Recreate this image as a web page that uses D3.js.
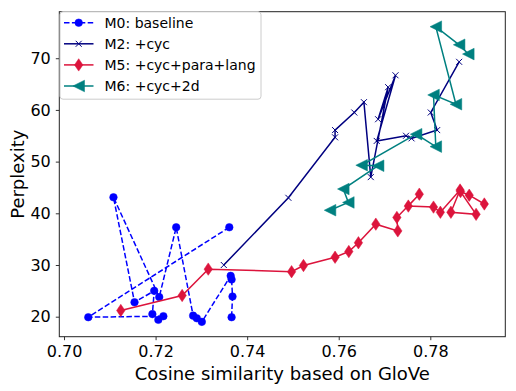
<!DOCTYPE html>
<meta charset="utf-8">
<script src="https://d3js.org/d3.v7.min.js"></script>
<style>
body { margin: 0; background: #fff; }
text { font-family: "DejaVu Sans", sans-serif; fill: #000; }
.tick text { font-size: 16px; }
.domain { display: none; }
.tick line { stroke: #000; stroke-width: 0.8; }
</style>
<div id="chart"></div>
<script>

// M0: baseline
var m0X = [0.7361, 0.7053, 0.7217, 0.7206, 0.7193, 0.7197, 0.7154, 0.7108, 0.7208, 0.7245, 0.7282, 0.7290, 0.7301, 0.7364, 0.7366, 0.7368, 0.7366];
var m0Y = [37.3, 19.9, 20.1, 19.4, 20.5, 25.0, 22.8, 43.1, 23.8, 37.3, 20.2, 19.7, 19.0, 27.9, 27.2, 23.9, 19.9];
// M2: +cyc
var m2X = [0.7349, 0.7490, 0.7592, 0.7592, 0.7634, 0.7655, 0.7670, 0.7708, 0.7686, 0.7724, 0.7683, 0.7747, 0.7759, 0.7815, 0.7801, 0.7863];
var m2Y = [30.0, 43.0, 54.7, 56.1, 59.5, 61.5, 47.0, 64.4, 58.2, 66.7, 54.0, 55.0, 54.5, 56.1, 59.5, 69.3];
// M5: +cyc+para+lang
var m5X = [0.7124, 0.7258, 0.7315, 0.7497, 0.7523, 0.7592, 0.7622, 0.7643, 0.7681, 0.7729, 0.7727, 0.7776, 0.7752, 0.7807, 0.7822, 0.7865, 0.7845, 0.7900, 0.7866, 0.7885, 0.7918];
var m5Y = [21.2, 24.1, 29.2, 28.7, 29.9, 31.5, 32.6, 34.3, 37.9, 36.6, 39.2, 43.7, 41.4, 41.2, 40.2, 44.5, 40.2, 39.8, 44.2, 43.5, 41.8];
// M6: +cyc+2d
var m6X = [0.7581, 0.7621, 0.7610, 0.7686, 0.7650, 0.7769, 0.7812, 0.7807, 0.7856, 0.7812, 0.7863, 0.7883];
var m6Y = [40.6, 42.1, 44.7, 49.2, 49.3, 55.3, 52.9, 62.9, 61.1, 76.1, 72.6, 70.8];

var xTicks = [0.70, 0.72, 0.74, 0.76, 0.78];
var yTicks = [20, 30, 40, 50, 60, 70];

var W = 516, H = 391;
var margin = {top: 11.7, right: 10.7, bottom: 54.3, left: 59.3};
var width = W - margin.left - margin.right,
    height = H - margin.top - margin.bottom;

var svg = d3.select("#chart").append("svg")
    .attr("width", W)
    .attr("height", H);

var g = svg.append("g")
    .attr("transform", "translate(" + margin.left + "," + margin.top + ")");

var x = d3.scaleLinear().domain([0.69897, 0.79638]).range([0, width]);
var y = d3.scaleLinear().domain([16.13, 79.0]).range([height, 0]);

g.append("g")
    .attr("transform", "translate(0," + height + ")")
    .call(d3.axisBottom(x).tickValues(xTicks).tickFormat(d3.format(".2f")).tickSize(3.5).tickPadding(5));

g.append("g")
    .call(d3.axisLeft(y).tickValues(yTicks).tickFormat(d3.format("d")).tickSize(3.5).tickPadding(5));

// axis labels
svg.append("text")
    .attr("x", margin.left + width / 2)
    .attr("y", 380)
    .attr("text-anchor", "middle")
    .style("font-size", "18px")
    .text("Cosine similarity based on GloVe");

svg.append("text")
    .attr("transform", "translate(24," + (margin.top + height / 2) + ") rotate(-90)")
    .attr("text-anchor", "middle")
    .style("font-size", "18px")
    .text("Perplexity");

// marker shapes
var circlePath = d3.symbol().type(d3.symbolCircle).size(Math.PI * 3.8 * 3.8)();
var diamondPath = "M0,-6.2L4.2,0L0,6.2L-4.2,0Z";
var triPath = "M-5.8,0L5.8,-5.8L5.8,5.8Z";
var xPath = "M-3,-3L3,3M-3,3L3,-3";

var series = [
  {name: "M0: baseline", xs: m0X, ys: m0Y, color: "#0000ff", dash: "5.5,2.4", marker: circlePath, fill: true},
  {name: "M2: +cyc", xs: m2X, ys: m2Y, color: "#000080", dash: null, marker: xPath, fill: false},
  {name: "M5: +cyc+para+lang", xs: m5X, ys: m5Y, color: "#dc143c", dash: null, marker: diamondPath, fill: true},
  {name: "M6: +cyc+2d", xs: m6X, ys: m6Y, color: "#008080", dash: null, marker: triPath, fill: true}
];

var line = d3.line()
  .x(function (d) { return x(d[0]); })
  .y(function (d) { return y(d[1]); });

var plot = g.append("g");

function drawMarker(sel, s) {
  sel.append("path")
    .attr("d", s.marker)
    .attr("fill", s.fill ? s.color : "none")
    .attr("stroke", s.color)
    .attr("stroke-width", s.fill ? 0.5 : 1);
}

series.forEach(function (s) {
  var pts = s.xs.map(function (v, i) { return [v, s.ys[i]]; });
  plot.append("path")
    .datum(pts)
    .attr("d", line)
    .attr("fill", "none")
    .attr("stroke", s.color)
    .attr("stroke-width", 1.5)
    .attr("stroke-dasharray", s.dash);

  plot.selectAll(null)
    .data(pts)
    .enter()
    .append("g")
      .attr("transform", function (d) { return "translate(" + x(d[0]) + "," + y(d[1]) + ")"; })
      .each(function () { drawMarker(d3.select(this), s); });
});

// frame
g.append("rect")
    .attr("width", width)
    .attr("height", height)
    .attr("fill", "none")
    .attr("stroke", "#222")
    .attr("stroke-width", 1);

// legend
var leg = svg.append("g").attr("transform", "translate(60,11.7)");
leg.append("rect")
    .attr("width", 201)
    .attr("height", 87.5)
    .attr("rx", 3)
    .attr("fill", "#fff")
    .attr("fill-opacity", 0.8)
    .attr("stroke", "#ccc")
    .attr("stroke-width", 1);

series.forEach(function (s, i) {
  var ry = 11 + i * 21.1;
  leg.append("line")
    .attr("x1", 4).attr("x2", 33.5)
    .attr("y1", ry).attr("y2", ry)
    .attr("stroke", s.color)
    .attr("stroke-width", 1.5)
    .attr("stroke-dasharray", s.dash);
  var mk = leg.append("g").attr("transform", "translate(18.7," + ry + ")");
  drawMarker(mk, s);
  leg.append("text")
    .attr("x", 44.5)
    .attr("y", ry + 5)
    .style("font-size", "14px")
    .text(s.name);
});

</script>
